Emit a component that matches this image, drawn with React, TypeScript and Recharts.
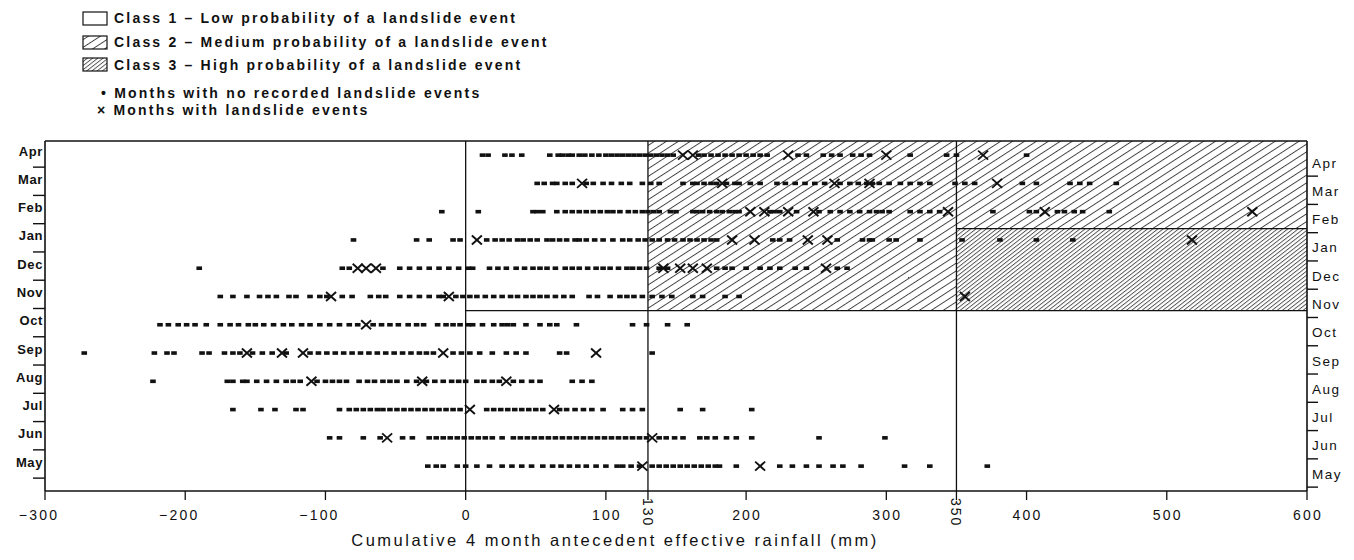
import React from 'react';
import { ScatterChart, Scatter, XAxis, YAxis, ReferenceArea, ReferenceLine } from 'recharts';

// month rows, bottom to top
const months = ['May', 'Jun', 'Jul', 'Aug', 'Sep', 'Oct', 'Nov', 'Dec', 'Jan', 'Feb', 'Mar', 'Apr'];

// values (mm); dots = no recorded landslide, crosses = landslide months
const mayDots = [-27, -21, -16, -6, 0, 8, 17, 26, 33, 40, 47, 55, 62, 68, 74, 80, 86, 93, 100, 108, 112, 118, 124, 133, 138, 143, 148, 153, 158, 163, 168, 173, 178, 181, 193, 224, 233, 243, 252, 262, 269, 282, 313, 331, 372];
const mayCrosses = [126, 210];
const junDots = [-97, -90, -73, -61, -45, -38, -26, -21, -16, -11, -6, -1, 4, 9, 14, 19, 26, 34, 39, 44, 49, 54, 59, 64, 69, 74, 79, 84, 89, 94, 99, 104, 109, 114, 119, 124, 129, 138, 143, 149, 155, 167, 172, 178, 186, 193, 204, 252, 299];
const junCrosses = [-56, 133];
const julDots = [-166, -146, -136, -121, -116, -90, -83, -78, -73, -68, -63, -59, -54, -49, -44, -39, -34, -29, -24, -19, -14, -9, -4, 15, 20, 25, 30, 35, 40, 45, 50, 55, 67, 72, 78, 84, 90, 98, 112, 119, 126, 153, 169, 204];
const julCrosses = [3, 63];
const augDots = [-223, -170, -166, -159, -156, -149, -142, -135, -128, -123, -118, -106, -100, -95, -90, -85, -76, -70, -65, -59, -54, -49, -42, -35, -28, -22, -16, -10, -5, 0, 8, 13, 19, 24, 34, 40, 47, 53, 76, 83, 90];
const augCrosses = [-110, -31, 29];
const sepDots = [-272, -222, -213, -208, -188, -183, -172, -166, -161, -152, -145, -138, -128, -111, -105, -99, -93, -87, -81, -75, -69, -63, -57, -51, -45, -39, -33, -28, -23, -9, -3, 3, 10, 19, 29, 36, 43, 67, 72, 133];
const sepCrosses = [-156, -131, -116, -16, 93];
const octDots = [-218, -212, -205, -199, -193, -185, -175, -168, -162, -155, -150, -144, -137, -130, -124, -117, -111, -104, -97, -90, -83, -77, -66, -60, -54, -48, -41, -35, -30, -20, -14, -9, -4, 2, 5, 12, 20, 26, 30, 34, 43, 53, 60, 65, 79, 119, 129, 144, 158];
const octCrosses = [-71];
const novDots = [-175, -166, -156, -147, -141, -135, -126, -121, -111, -104, -99, -88, -81, -68, -62, -57, -47, -40, -33, -26, -19, -16, -7, -2, 3, 8, 14, 20, 26, 32, 37, 43, 48, 53, 58, 64, 70, 76, 88, 94, 103, 110, 115, 120, 126, 133, 140, 147, 162, 169, 185, 195];
const novCrosses = [-96, -12, 356];
const decDots = [-190, -88, -83, -59, -47, -40, -33, -26, -19, -12, -5, 2, 5, 17, 23, 29, 36, 42, 48, 53, 58, 64, 71, 76, 81, 87, 93, 98, 103, 109, 115, 119, 124, 129, 138, 144, 179, 185, 190, 200, 210, 217, 224, 235, 243, 265, 272];
const decCrosses = [-77, -71, -64, 141, 153, 162, 172, 257];
const janDots = [-80, -35, -26, -9, -4, 15, 21, 26, 31, 37, 41, 46, 51, 58, 62, 67, 72, 78, 81, 86, 92, 98, 105, 112, 117, 123, 128, 133, 138, 144, 149, 155, 160, 165, 170, 175, 179, 219, 224, 231, 265, 283, 288, 290, 302, 307, 324, 354, 381, 407, 433];
const janCrosses = [8, 190, 206, 244, 258, 518];
const febDots = [-17, 9, 48, 51, 55, 65, 71, 76, 81, 86, 91, 96, 101, 105, 110, 116, 121, 126, 130, 134, 138, 146, 150, 162, 165, 169, 174, 179, 183, 188, 192, 195, 217, 220, 224, 236, 252, 260, 267, 274, 281, 288, 293, 297, 302, 317, 324, 331, 338, 376, 402, 407, 422, 427, 434, 440, 459];
const febCrosses = [203, 213, 230, 248, 344, 413, 561];
const marDots = [51, 56, 62, 65, 71, 76, 86, 91, 98, 104, 111, 117, 126, 132, 138, 155, 162, 165, 170, 175, 179, 186, 192, 195, 203, 210, 222, 228, 235, 242, 249, 256, 267, 274, 280, 286, 290, 295, 302, 310, 317, 324, 331, 349, 356, 363, 397, 407, 431, 438, 445, 464];
const marCrosses = [83, 183, 263, 288, 379];
const aprDots = [12, 16, 28, 33, 40, 60, 66, 69, 73, 76, 81, 85, 90, 95, 100, 104, 108, 112, 116, 120, 124, 128, 132, 136, 140, 144, 148, 166, 170, 175, 180, 185, 190, 195, 200, 205, 210, 215, 237, 243, 255, 261, 267, 276, 282, 288, 317, 343, 350, 400];
const aprCrosses = [155, 162, 230, 300, 369];

const xTicks = [-300, -200, -100, 0, 100, 130, 200, 300, 350, 400, 500, 600];
const monthTicks = [1, 2, 3, 4, 5, 6, 7, 8, 9, 10, 11, 12];

const dotRows = [mayDots, junDots, julDots, augDots, sepDots, octDots, novDots, decDots, janDots, febDots, marDots, aprDots];
const crossRows = [mayCrosses, junCrosses, julCrosses, augCrosses, sepCrosses, octCrosses, novCrosses, decCrosses, janCrosses, febCrosses, marCrosses, aprCrosses];

const dotData = dotRows.flatMap((row, i) => row.map((x) => ({ x, y: i + 1 })));
const crossData = crossRows.flatMap((row, i) => row.map((x) => ({ x, y: i + 1 })));

const INK = '#111';
const FONT = '"Liberation Sans", Arial, Helvetica, sans-serif';
const Y_DOMAIN: [number, number] = [0.12, 12.5];

const DotShape = (p: any) => (
  <rect x={p.cx - 2.8} y={p.cy - 1.8} width={5.6} height={3.6} fill={INK} />
);

const CrossShape = (p: any) => (
  <g stroke={INK} strokeWidth={1.9}>
    <line x1={p.cx - 5} y1={p.cy - 4.5} x2={p.cx + 5} y2={p.cy + 4.5} />
    <line x1={p.cx - 5} y1={p.cy + 4.5} x2={p.cx + 5} y2={p.cy - 4.5} />
  </g>
);

const LeftTick = (p: any) => {
  const { x, y, payload } = p;
  return (
    <g>
      <text x={x - 2} y={y - 4} textAnchor="end" dominantBaseline="central" fontFamily={FONT} fontSize={13} fontWeight="bold" letterSpacing={0.6} fill={INK}>
        {months[payload.value - 1]}
      </text>
      <line x1={x - 12} y1={y + 12} x2={x} y2={y + 12} stroke={INK} strokeWidth={1.4} />
    </g>
  );
};

const RightTick = (p: any) => {
  const { x, y, payload } = p;
  return (
    <g>
      <text x={x + 5} y={y + 8} textAnchor="start" dominantBaseline="central" fontFamily={FONT} fontSize={13.5} letterSpacing={1.5} fill={INK}>
        {months[payload.value - 1]}
      </text>
      <line x1={x} y1={y + 21} x2={x + 11} y2={y + 21} stroke={INK} strokeWidth={1.4} />
    </g>
  );
};

const BottomTick = (p: any) => {
  const { x, y, payload } = p;
  const v = payload.value;
  const label = v < 0 ? '\u2212' + Math.abs(v) : String(v);
  if (v === 130 || v === 350) {
    return (
      <text x={x} y={y - 4} transform={`rotate(90 ${x} ${y - 4})`} textAnchor="start" dominantBaseline="central" fontFamily={FONT} fontSize={14} letterSpacing={2} fill={INK}>
        {label}
      </text>
    );
  }
  return (
    <text x={v < 0 ? x - 6 : x + 1} y={y + 18} textAnchor="middle" fontFamily={FONT} fontSize={14} letterSpacing={2.2} fill={INK}>
      {label}
    </text>
  );
};

export default function App() {
  return (
    <div style={{ position: 'absolute', left: 0, top: 0, width: 1354, height: 560, background: '#fff' }}>
      <svg width={0} height={0} style={{ position: 'absolute' }}>
        <defs>
          <pattern id="hatchLight" patternUnits="userSpaceOnUse" width={12} height={6.5} patternTransform="rotate(-33)">
            <line x1={0} y1={0.5} x2={12} y2={0.5} stroke={INK} strokeWidth={0.8} />
          </pattern>
          <pattern id="hatchDense" patternUnits="userSpaceOnUse" width={8} height={3.2} patternTransform="rotate(-38)">
            <line x1={0} y1={0.5} x2={8} y2={0.5} stroke={INK} strokeWidth={0.75} />
          </pattern>
        </defs>
      </svg>

      <ScatterChart width={1354} height={560} margin={{ top: 141, right: 0, bottom: 19, left: 0 }}>
        <XAxis
          dataKey="x"
          type="number"
          domain={[-300, 600]}
          ticks={xTicks}
          interval={0}
          height={50}
          tickSize={9}
          tickLine={{ stroke: INK, strokeWidth: 1.3 }}
          axisLine={{ stroke: INK, strokeWidth: 1.6 }}
          tick={BottomTick}
          allowDataOverflow
        />
        <YAxis
          yAxisId="left"
          dataKey="y"
          type="number"
          domain={Y_DOMAIN}
          ticks={monthTicks}
          interval={0}
          width={45}
          tickSize={0}
          tickMargin={0}
          axisLine={{ stroke: INK, strokeWidth: 1.6 }}
          tick={LeftTick}
          allowDataOverflow
        />
        <YAxis
          yAxisId="right"
          orientation="right"
          dataKey="y"
          type="number"
          domain={Y_DOMAIN}
          ticks={monthTicks}
          interval={0}
          width={47}
          tickSize={0}
          tickMargin={0}
          axisLine={{ stroke: INK, strokeWidth: 1.6 }}
          tick={RightTick}
          allowDataOverflow
        />

        <ReferenceArea yAxisId="left" x1={130} x2={350} y1={6.5} y2={12.5} fill="url(#hatchLight)" fillOpacity={1} stroke="none" />
        <ReferenceArea yAxisId="left" x1={350} x2={600} y1={9.4} y2={12.5} fill="url(#hatchLight)" fillOpacity={1} stroke="none" />
        <ReferenceArea yAxisId="left" x1={350} x2={600} y1={6.5} y2={9.4} fill="url(#hatchDense)" fillOpacity={1} stroke="none" />

        <ReferenceLine yAxisId="left" y={12.5} stroke={INK} strokeWidth={1.6} />
        <ReferenceLine yAxisId="left" x={0} stroke={INK} strokeWidth={1.3} />
        <ReferenceLine yAxisId="left" x={130} stroke={INK} strokeWidth={1.3} />
        <ReferenceLine yAxisId="left" x={350} stroke={INK} strokeWidth={1.3} />
        <ReferenceLine yAxisId="left" segment={[{ x: 0, y: 6.5 }, { x: 600, y: 6.5 }]} stroke={INK} strokeWidth={1.3} />
        <ReferenceLine yAxisId="left" segment={[{ x: 350, y: 9.4 }, { x: 600, y: 9.4 }]} stroke={INK} strokeWidth={1.2} />

        <Scatter yAxisId="left" data={dotData} shape={DotShape} isAnimationActive={false} />
        <Scatter yAxisId="left" data={crossData} shape={CrossShape} isAnimationActive={false} />
      </ScatterChart>

      <svg width={1354} height={560} style={{ position: 'absolute', left: 0, top: 0, pointerEvents: 'none' }}>
        <g fontFamily={FONT} fontSize={14} fontWeight="bold" letterSpacing={2.2} fill={INK}>
          <rect x={83} y={12} width={24} height={13} fill="#fff" stroke={INK} strokeWidth={1.2} />
          <text x={114} y={23}>Class 1 – Low probability of a landslide event</text>
          <rect x={83} y={36} width={24} height={13} fill="url(#hatchLight)" stroke={INK} strokeWidth={1.2} />
          <text x={114} y={47}>Class 2 – Medium probability of a landslide event</text>
          <rect x={83} y={58} width={24} height={13} fill="url(#hatchDense)" stroke={INK} strokeWidth={1.2} />
          <text x={114} y={70}>Class 3 – High probability of a landslide event</text>
          <text x={101} y={98}>• Months with no recorded landslide events</text>
          <text x={97} y={115}>× Months with landslide events</text>
        </g>
        <text x={615} y={546} textAnchor="middle" fontFamily={FONT} fontSize={16.5} letterSpacing={2.5} fill={INK}>
          Cumulative 4 month antecedent effective rainfall (mm)
        </text>
      </svg>
    </div>
  );
}
